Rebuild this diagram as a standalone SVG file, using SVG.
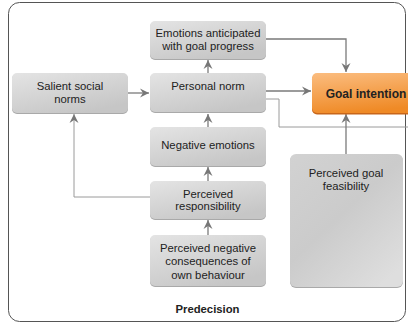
<svg xmlns="http://www.w3.org/2000/svg" width="408" height="324" viewBox="0 0 408 324">
<defs>
  <linearGradient id="gray" x1="0" y1="0" x2="0.6" y2="1">
    <stop offset="0" stop-color="#e4e4e4"/>
    <stop offset="1" stop-color="#c6c6c6"/>
  </linearGradient>
  <linearGradient id="grayTall" x1="0" y1="0" x2="0.8" y2="1">
    <stop offset="0" stop-color="#d2d2d2"/>
    <stop offset="0.5" stop-color="#cbcbcb"/>
    <stop offset="1" stop-color="#dedede"/>
  </linearGradient>
  <linearGradient id="orange" x1="0" y1="0" x2="0.3" y2="1">
    <stop offset="0" stop-color="#fbbd80"/>
    <stop offset="1" stop-color="#ef8a26"/>
  </linearGradient>
  <marker id="arr" markerUnits="userSpaceOnUse" markerWidth="12" markerHeight="12" viewBox="0 0 12 12" refX="10" refY="6" orient="auto">
    <path d="M1,1.5 L10,6 L1,10.5 L4,6 Z" fill="#777"/>
  </marker>
</defs>
<style>
  .box { fill: url(#gray); }
  .sh { fill: #a9a9a9; }
  .t { font-family: "Liberation Sans", Arial, sans-serif; font-size: 11.3px; fill: #222; text-anchor: middle; }
  .b { font-weight: bold; }
  .c { fill: none; stroke: #7a7a7a; stroke-width: 1.3; }
  .c2 { fill: none; stroke: #9a9a9a; stroke-width: 1; }
</style>
<rect x="8.5" y="2.5" width="397" height="319" rx="11" fill="#ffffff" stroke="#555" stroke-width="1"/>
<g id="connectors">
  <path class="c" d="M128,93 H149" marker-end="url(#arr)"/>
  <path class="c" d="M208,73 V60" marker-end="url(#arr)"/>
  <path class="c" d="M208,127 V114" marker-end="url(#arr)"/>
  <path class="c" d="M208,181 V167" marker-end="url(#arr)"/>
  <path class="c" d="M208,235 V220" marker-end="url(#arr)"/>
  <path class="c2" d="M150,197 H74 V114" marker-end="url(#arr)"/>
  <path class="c" d="M266,39 H346 V72" marker-end="url(#arr)"/>
  <path class="c" d="M266,91 H311" marker-end="url(#arr)"/>
  <path class="c2" d="M266,99 H279 V127 H408"/>
  <path class="c" d="M346,154 V114" marker-end="url(#arr)"/>
</g>
<g id="emotions-anticipated">
  <rect class="sh" x="150" y="22" width="116" height="38" rx="5"/>
  <rect class="box" x="150" y="21" width="116" height="38" rx="5"/>
  <text class="t" x="208" y="37">Emotions anticipated</text>
  <text class="t" x="208" y="50">with goal progress</text>
</g>
<g id="salient-social-norms">
  <rect class="sh" x="12" y="74" width="116" height="40" rx="5"/>
  <rect class="box" x="12" y="73" width="116" height="40" rx="5"/>
  <text class="t" x="70" y="90">Salient social</text>
  <text class="t" x="70" y="103">norms</text>
</g>
<g id="personal-norm">
  <rect class="sh" x="150" y="74" width="116" height="39" rx="5"/>
  <rect class="box" x="150" y="73" width="116" height="39" rx="5"/>
  <text class="t" x="208" y="90">Personal norm</text>
</g>
<g id="goal-intention">
  <rect x="312" y="74.5" width="124" height="40" rx="5" fill="#c8661a"/>
  <rect x="312" y="73" width="124" height="40" rx="5" fill="url(#orange)"/>
  <text class="t b" x="366" y="97.5" style="font-size:12px">Goal intention</text>
</g>
<g id="negative-emotions">
  <rect class="sh" x="150" y="128" width="116" height="39" rx="5"/>
  <rect class="box" x="150" y="127" width="116" height="39" rx="5"/>
  <text class="t" x="208" y="149">Negative emotions</text>
</g>
<g id="perceived-responsibility">
  <rect class="sh" x="150" y="182" width="116" height="38" rx="5"/>
  <rect class="box" x="150" y="181" width="116" height="38" rx="5"/>
  <text class="t" x="208" y="198">Perceived</text>
  <text class="t" x="208" y="210">responsibility</text>
</g>
<g id="perceived-negative-consequences">
  <rect class="sh" x="150" y="236" width="116" height="51" rx="5"/>
  <rect class="box" x="150" y="235" width="116" height="51" rx="5"/>
  <text class="t" x="208" y="252">Perceived negative</text>
  <text class="t" x="208" y="265">consequences of</text>
  <text class="t" x="208" y="279">own behaviour</text>
</g>
<g id="perceived-goal-feasibility">
  <rect class="sh" x="290" y="155" width="113" height="133" rx="6"/>
  <rect x="290" y="154" width="113" height="133" rx="6" fill="url(#grayTall)"/>
  <text class="t" x="346" y="177">Perceived goal</text>
  <text class="t" x="346" y="190">feasibility</text>
</g>
<text class="t b" x="207.5" y="313" style="font-size:11.3px">Predecision</text>
</svg>
